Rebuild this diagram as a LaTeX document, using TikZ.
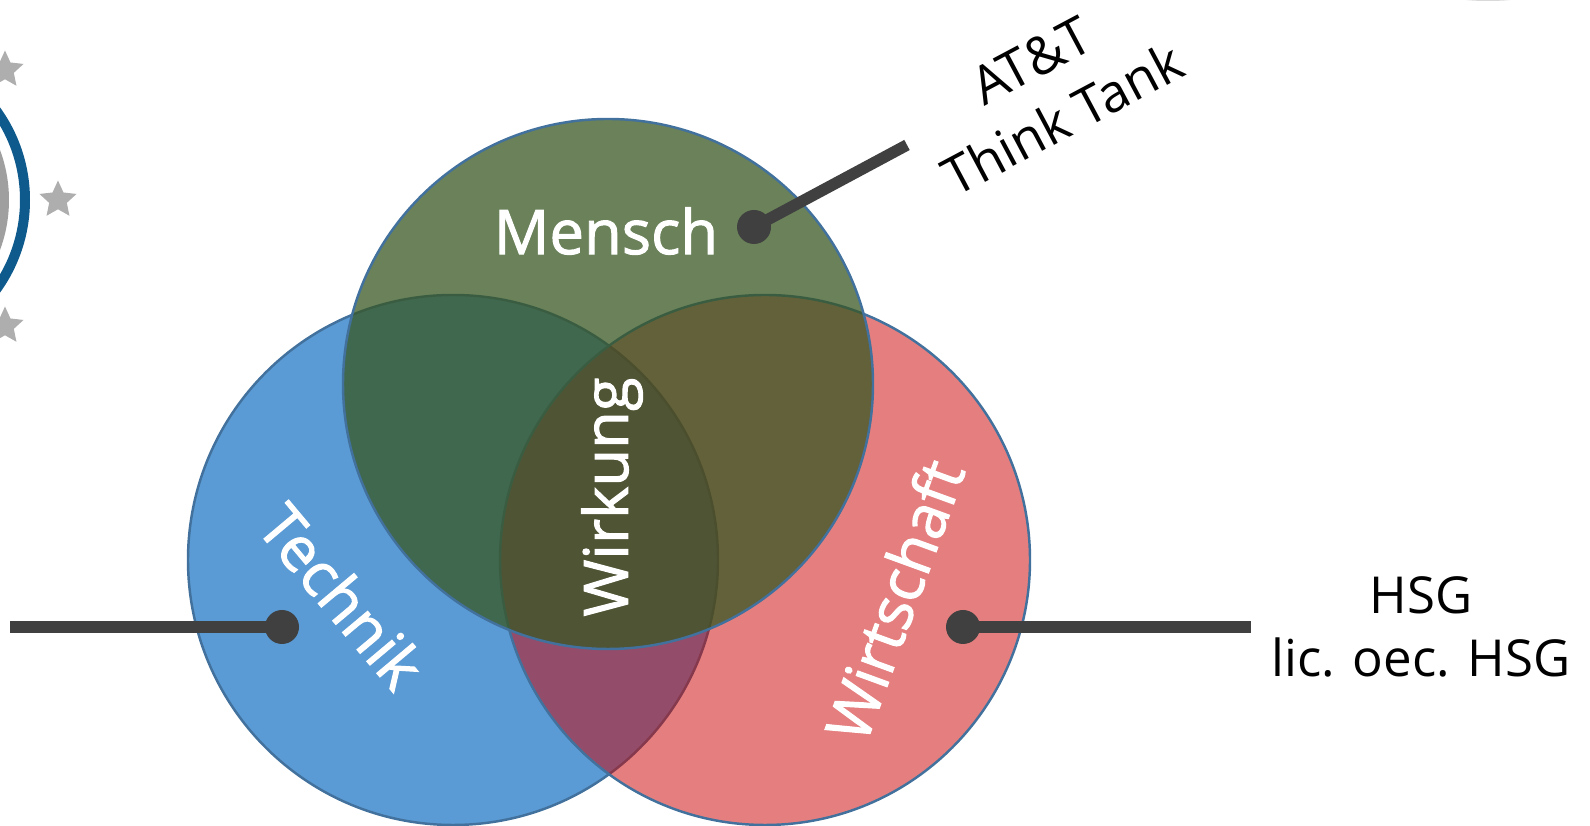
\documentclass[tikz,border=0pt]{standalone}
\usepackage{fontspec}
\setmainfont{Open Sans}
\usetikzlibrary{shapes.geometric}
\definecolor{techblue}{HTML}{5B9BD5}
\definecolor{wirtred}{HTML}{CC0000}
\definecolor{menschgreen}{HTML}{385723}
\definecolor{rimblue}{HTML}{41719C}
\definecolor{darkline}{HTML}{404040}
\definecolor{stargray}{HTML}{AEAEAE}
\definecolor{ringblue}{HTML}{0F5A8C}
\tikzset{
  circlab/.style={text=white,font=\fontsize{17.5}{22}\selectfont\addfontfeature{FakeBold=1.6}},
  sidelab/.style={text=black,font=\fontsize{14.5}{18}\selectfont,align=center},
  dotnode/.style={circle,fill=darkline,minimum size=0.34cm,inner sep=0pt},
  leader/.style={color=darkline,line width=0.115cm},
  logostar/.style={star,star points=5,star point ratio=2.1,fill=stargray,minimum size=0.39cm,inner sep=0pt}
}
\begin{document}
\begin{tikzpicture}
\useasboundingbox (0,0) rectangle (15.9,8.26);
\clip (0,0) rectangle (15.9,8.26);
\fill [color=gray!30](14.88,8.28) ellipse (0.3 and 0.03);
\draw [color=ringblue,line width=0.1cm](-1.28,6.26) circle (1.53);
\fill [color=gray!75](-1.34,6.26) circle (1.43);
\node [logostar] (star1) at (0.05,7.56) {};
\node [logostar] (star2) at (0.58,6.26) {};
\node [logostar] (star3) at (0.05,5.0) {};
\draw [color=rimblue,fill=techblue,line width=0.7pt](4.53,2.66) circle (2.65);
\draw [color=rimblue,fill=wirtred,fill opacity=0.5,line width=0.7pt](7.65,2.66) circle (2.65);
\draw [color=rimblue,fill=menschgreen,fill opacity=0.75,line width=0.7pt](6.08,4.42) circle (2.65);
\node [circlab] (mensch) at (6.06,5.95) {Mensch};
\node [circlab,rotate=90] (wirkung) at (6.12,3.29) {Wirkung};
\node [circlab,rotate=-50] (technik) at (3.42,2.3) {Technik};
\node [circlab,rotate=70] (wirtschaft) at (8.94,2.26) {Wirtschaft};
\node [dotnode] (dotm) at (7.54,5.99) {};
\node [dotnode] (dott) at (2.82,1.99) {};
\node [dotnode] (dotw) at (9.63,1.99) {};
\coordinate (endm) at (9.07,6.81);
\coordinate (endt) at (0.1,1.99);
\coordinate (endw) at (12.51,1.99);
\draw [leader](dotm.center) -- (endm);
\draw [leader](dott.center) -- (endt);
\draw [leader](dotw.center) -- (endw);
\node [sidelab,rotate=28,font=\fontsize{15}{19}\selectfont] (att) at (10.47,7.36) {AT\&T\\Think Tank};
\node [sidelab] (hsg) at (14.21,1.99) {HSG\\lic. oec. HSG};
\end{tikzpicture}
\end{document}
